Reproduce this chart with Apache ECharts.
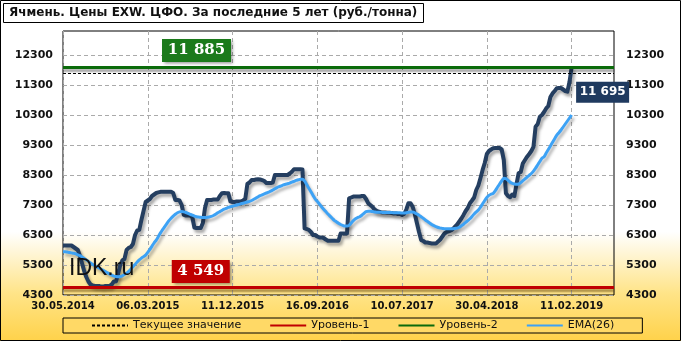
<!DOCTYPE html>
<html><head><meta charset="utf-8">
<script src="https://cdn.jsdelivr.net/npm/echarts@6/dist/echarts.min.js"></script>
<style>html,body{margin:0;padding:0;background:#fff}#c{width:681px;height:341px}</style>
</head><body><div id="c"></div>
<script>
const tickLabels = ['30.05.2014','06.03.2015','11.12.2015','16.09.2016','10.07.2017','30.04.2018','11.02.2019'];
const yTicks = [4300,5300,6300,7300,8300,9300,10300,11300,12300];
const price = [
5950,5950,5950,5950,5950,5900,5850,5800,5600,5350,
5100,4900,4750,4650,4620,4600,4600,4600,4580,4580,
4600,4600,4600,4650,4750,4750,5000,5300,5450,5500,
5800,5870,5900,6000,6300,6450,6470,6800,7100,7400,
7450,7500,7600,7650,7700,7720,7740,7740,7740,7740,
7740,7740,7700,7470,7470,7450,7300,6970,6950,6950,
6950,6900,6550,6530,6530,6530,6700,7200,7470,7470,
7470,7480,7480,7480,7600,7690,7700,7690,7690,7420,
7400,7400,7420,7420,7420,7450,7500,8000,8050,8130,
8130,8150,8160,8150,8130,8100,8030,8030,8030,8050,
8300,8300,8300,8300,8300,8300,8300,8350,8410,8490,
8490,8490,8490,8480,6520,6500,6470,6400,6300,6300,
6250,6220,6220,6200,6150,6110,6110,6110,6110,6110,
6110,6350,6350,6350,6350,7520,7550,7580,7580,7580,
7580,7600,7600,7500,7360,7300,7240,7150,7100,7080,
7060,7050,7050,7040,7040,7030,7020,7020,7000,7000,
6970,7000,7150,7360,7360,7240,7000,6700,6400,6130,
6100,6050,6050,6030,6020,6020,6020,6080,6150,6250,
6350,6400,6420,6450,6500,6580,6650,6750,6850,6970,
7100,7200,7360,7450,7550,7800,7950,8200,8470,8700,
9000,9100,9150,9190,9200,9200,9200,9150,8800,7690,
7600,7560,7650,7600,8000,8360,8400,8690,8800,8910,
9000,9100,9240,9910,10000,10240,10300,10400,10520,10600,
10900,11020,11100,11190,11200,11200,11150,11100,11080,11400,
11885];
const ema26 = [
5745,5740,5730,5720,5705,5690,5670,5640,5610,5570,
5520,5470,5420,5370,5320,5280,5240,5200,5160,5120,
5080,5040,5000,4960,4930,4915,4910,4915,4940,4980,
5030,5090,5160,5240,5320,5400,5470,5530,5580,5630,
5720,5820,5930,6040,6130,6250,6370,6480,6580,6680,
6780,6860,6930,6990,7040,7070,7080,7070,7050,7020,
6990,6960,6930,6910,6900,6890,6880,6880,6890,6900,
6920,6950,6990,7040,7080,7120,7160,7190,7220,7240,
7260,7280,7300,7320,7340,7360,7380,7400,7420,7450,
7490,7530,7570,7610,7640,7670,7700,7730,7760,7800,
7840,7880,7910,7940,7970,7990,8010,8030,8060,8090,
8120,8140,8160,8160,8100,7980,7860,7740,7620,7500,
7420,7330,7240,7160,7080,7000,6930,6860,6790,6740,
6690,6650,6620,6600,6600,6620,6700,6780,6840,6880,
6910,6960,7020,7080,7090,7090,7080,7070,7060,7060,
7060,7050,7050,7050,7050,7050,7040,7040,7040,7040,
7030,7030,7040,7060,7070,7070,7040,7000,6960,6910,
6860,6800,6750,6700,6650,6610,6580,6550,6530,6520,
6510,6510,6510,6510,6510,6520,6530,6560,6610,6660,
6720,6780,6840,6920,7000,7070,7130,7230,7340,7450,
7550,7620,7660,7690,7780,7890,8000,8100,8190,8180,
8120,8060,8020,8000,7990,8000,8050,8110,8170,8230,
8290,8350,8430,8530,8640,8750,8860,8910,9030,9150,
9270,9390,9510,9630,9710,9800,9900,10000,10100,10200,
10300];
const currentValue = 11695;
const level1 = 4549;
const level2 = 11885;
const categoryCount = 261;
const categories = Array.from({length: categoryCount}, (_, i) => String(i));

const FONT = 'DejaVu Sans';
const chart = echarts.init(document.getElementById('c'), null, {renderer: 'canvas'});
const bg = new echarts.graphic.LinearGradient(0, 0, 0, 1, [
  {offset: 0, color: '#ffffff'}, {offset: 0.68, color: '#ffffff'},
  {offset: 0.86, color: '#FFE488'}, {offset: 1, color: '#FFD24A'}]);
const yLabel = {customValues: yTicks, color: '#111', fontFamily: FONT, fontWeight: 'bold', fontSize: 11, formatter: v => String(v)};
chart.setOption({
  backgroundColor: bg,
  animation: false,
  title: {
    text: 'Ячмень. Цены EXW. ЦФО. За последние 5 лет (руб./тонна)',
    left: 3, top: 3, padding: [4, 6, 4, 6],
    backgroundColor: '#fff', borderColor: '#000', borderWidth: 1,
    textStyle: {fontFamily: FONT, fontWeight: 'bold', fontSize: 12, color: '#111'}
  },
  graphic: [
    {type: 'rect', shape: {x: 0.5, y: 0.5, width: 680, height: 340}, style: {fill: null, stroke: '#000', lineWidth: 1}, silent: true, z: 100},
    {type: 'text', left: 69, top: 257, style: {text: 'IDK.ru', font: '23px "Liberation Sans"', fill: '#111'}, z: 50}
  ],
  grid: {left: 63, right: 67, top: 31, bottom: 46, show: true, borderColor: '#000', borderWidth: 1, backgroundColor: 'transparent'},
  legend: {
    left: 63, top: 318, padding: [2, 28, 2, 28], itemGap: 28, itemWidth: 36, itemHeight: 8,
    backgroundColor: '#FFD966', borderColor: '#000', borderWidth: 1,
    itemStyle: {opacity: 0},
    textStyle: {fontFamily: FONT, fontSize: 11, color: '#111'},
    data: ['Текущее значение', 'Уровень-1', 'Уровень-2', 'EMA(26)']
  },
  xAxis: {
    type: 'category', data: categories, boundaryGap: false,
    axisLine: {show: false}, axisTick: {show: false},
    axisLabel: {interval: 39, color: '#111', fontFamily: FONT, fontWeight: 'bold', fontSize: 10, margin: 6,
      formatter: (v, i) => (i % 40 === 0 && tickLabels[i / 40]) ? tickLabels[i / 40] : ''},
    splitLine: {show: true, interval: 39, lineStyle: {color: '#aaa', type: [4, 3], width: 1}}
  },
  yAxis: [
    {type: 'value', min: 4300, max: 13100, position: 'left',
      axisLine: {show: false}, axisTick: {show: false, customValues: yTicks}, axisLabel: Object.assign({}, yLabel, {margin: 10}),
      splitLine: {show: true, lineStyle: {color: '#aaa', type: [4, 3], width: 1}}},
    {type: 'value', min: 4300, max: 13100, position: 'right',
      axisLine: {show: false}, axisTick: {show: false, customValues: yTicks}, axisLabel: Object.assign({}, yLabel, {margin: 12}),
      splitLine: {show: false}}
  ],
  series: [
    {name: 'Уровень-1', type: 'line', data: [], symbol: 'none', color: '#C00000', lineStyle: {color: '#C00000', width: 3},
      markLine: {silent: true, symbol: 'none', label: {show: false}, data: [{yAxis: level1}],
        lineStyle: {color: '#C00000', width: 3, type: 'solid', shadowColor: 'rgba(90,60,0,0.5)', shadowBlur: 2, shadowOffsetY: 3}},
      markPoint: {silent: true, symbol: 'rect', symbolSize: [58, 23], symbolOffset: [0, -16],
        itemStyle: {color: '#C00000', shadowColor: 'rgba(0,0,0,0.4)', shadowBlur: 3, shadowOffsetX: 2, shadowOffsetY: 2},
        label: {show: true, color: '#fff', fontFamily: 'DejaVu Serif', fontWeight: 'bold', fontSize: 15, formatter: '4 549'},
        data: [{coord: [65, level1]}]}},
    {name: 'Уровень-2', type: 'line', data: [], symbol: 'none', color: '#0B6B0B', lineStyle: {color: '#0B6B0B', width: 3},
      markLine: {silent: true, symbol: 'none', label: {show: false}, data: [{yAxis: level2}],
        lineStyle: {color: '#0B6B0B', width: 3, type: 'solid', shadowColor: 'rgba(0,0,0,0.35)', shadowBlur: 2, shadowOffsetY: 3}},
      markPoint: {silent: true, symbol: 'rect', symbolSize: [69, 23], symbolOffset: [0, -17],
        itemStyle: {color: '#1B7A1B', shadowColor: 'rgba(0,0,0,0.4)', shadowBlur: 3, shadowOffsetX: 2, shadowOffsetY: 2},
        label: {show: true, color: '#fff', fontFamily: 'DejaVu Serif', fontWeight: 'bold', fontSize: 15, formatter: '11 885'},
        data: [{coord: [63, level2]}]}},
    {name: 'Текущее значение', type: 'line', data: [], symbol: 'none', color: '#000', lineStyle: {color: '#000', width: 1, type: [3, 2]},
      markLine: {silent: true, symbol: 'none', label: {show: false}, data: [{yAxis: currentValue}],
        lineStyle: {color: '#000', width: 1, type: [3, 2]}},
      markPoint: {silent: true, symbol: 'rect', symbolSize: [53, 21], symbolOffset: [31, 19],
        itemStyle: {color: '#1F3A5F'},
        label: {show: true, color: '#fff', fontFamily: FONT, fontWeight: 'bold', fontSize: 12, formatter: '11 695'},
        data: [{coord: [240, currentValue]}]}},
    {name: 'Цена', type: 'line', data: price, symbol: 'none', z: 4,
      lineStyle: {color: '#243E60', width: 4, join: 'round', shadowColor: 'rgba(0,0,0,0.35)', shadowBlur: 3, shadowOffsetX: 2, shadowOffsetY: 3}},
    {name: 'EMA(26)', type: 'line', data: ema26, symbol: 'none', smooth: 0.3, z: 5, color: '#3DA2F5',
      lineStyle: {color: '#3DA2F5', width: 3, shadowColor: 'rgba(0,0,0,0.3)', shadowBlur: 3, shadowOffsetX: 2, shadowOffsetY: 3}}
  ]
});
</script></body></html>
